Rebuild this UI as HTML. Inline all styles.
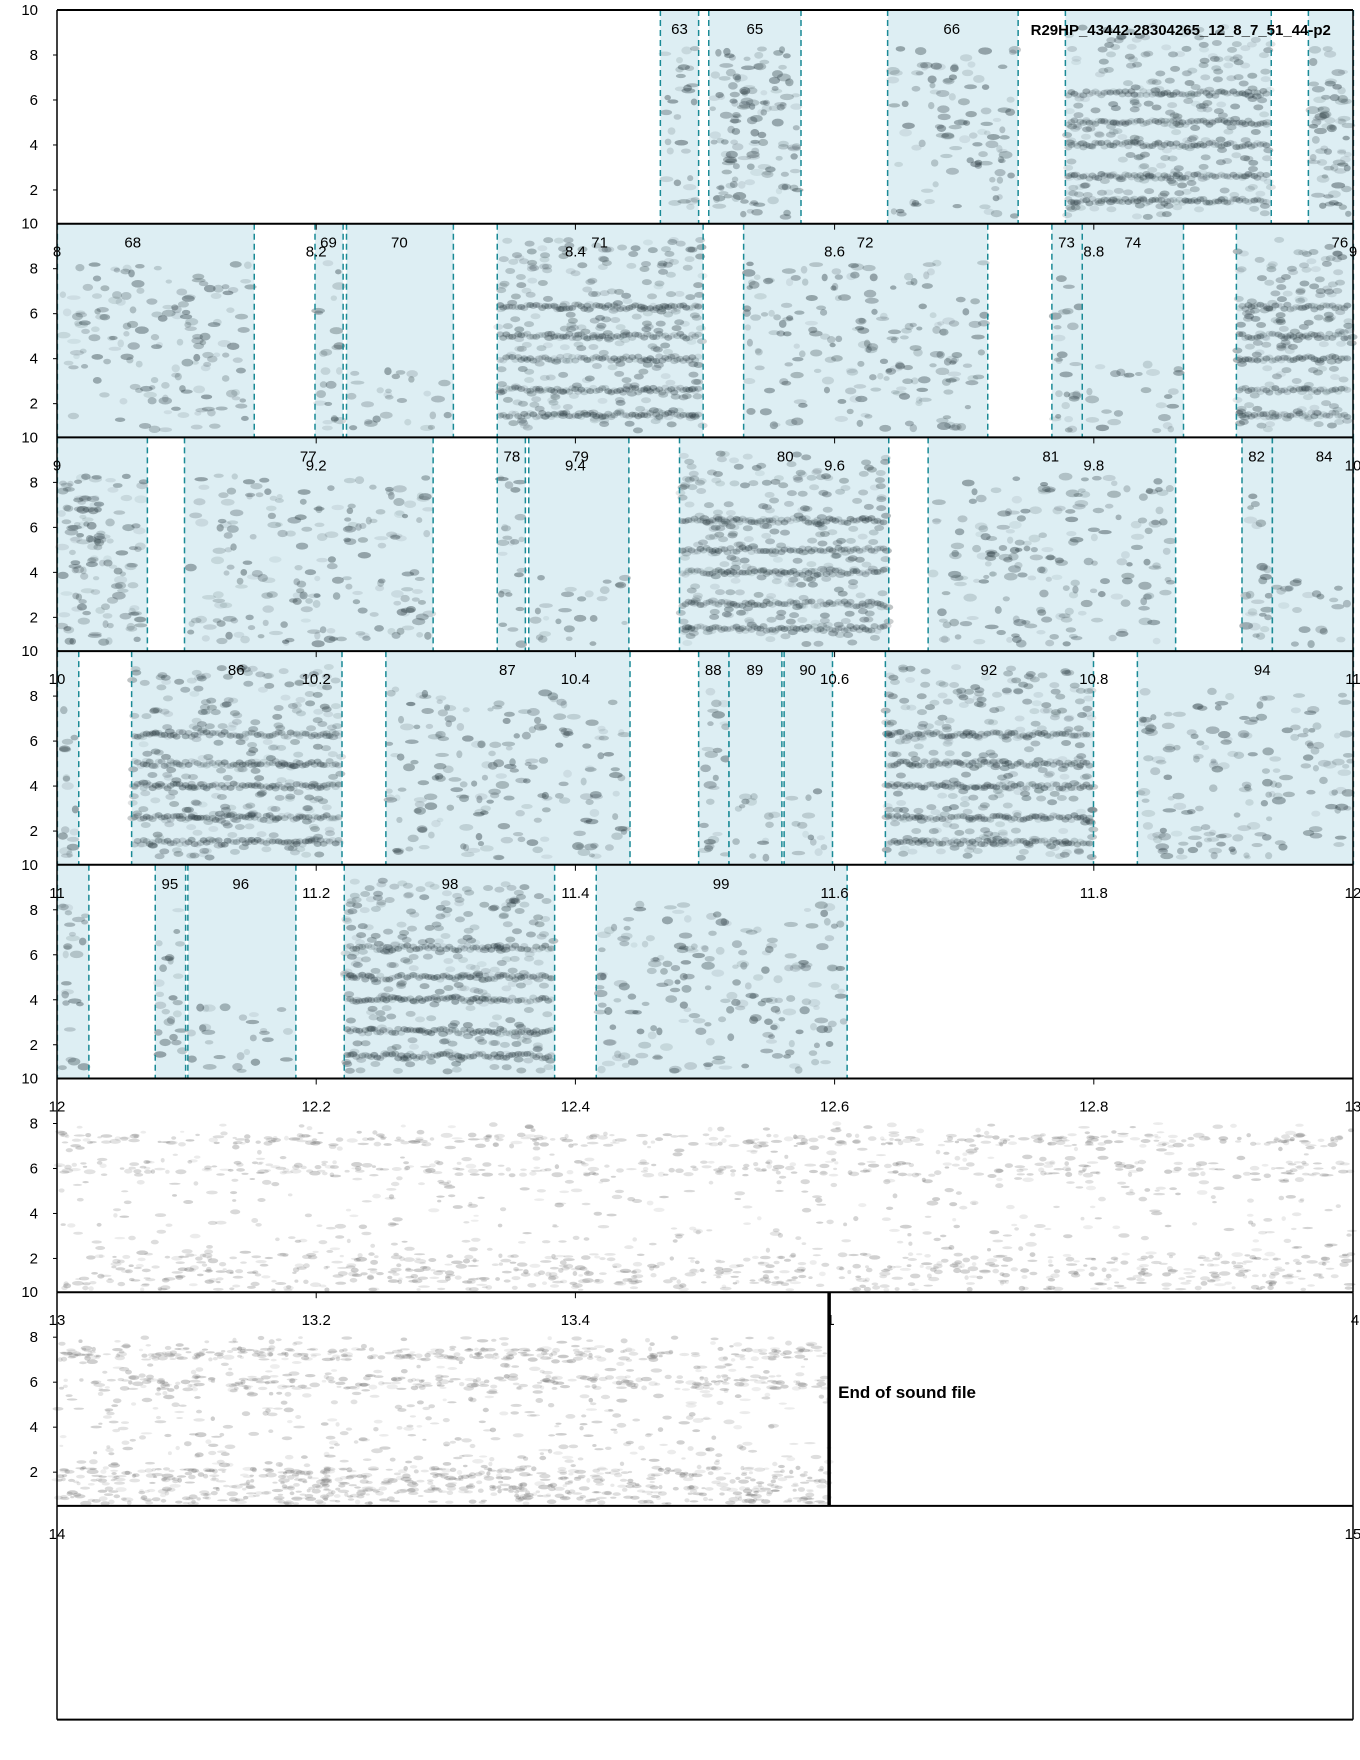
<!DOCTYPE html>
<html><head><meta charset="utf-8"><style>
html,body{margin:0;padding:0;background:#fff;}
svg{display:block;font-family:"Liberation Sans",sans-serif;}
</style></head><body>
<svg id="s" width="1360" height="1760" xmlns="http://www.w3.org/2000/svg"></svg>
<script>
const S=document.getElementById('s');
let out='';
const L=57,R=1353,W=R-L,RH=213.7,T0=10;
const k=1.125;
let seed=12345;function rnd(){seed=(seed*16807)%2147483647;return seed/2147483647;}
function rowTop(i){return T0+i*RH;}
function fy(i,khz){return rowTop(i)+(10-khz)*RH/9.5;}
const rows=[
 [[587,621,'63',604,'s'],[630,712,'65',671,'d'],[789,905,'66',846,'s'],[947,1130,'',0,'h'],[1163,1203,'',0,'d']],
 [[51,226,'68',118,'s'],[280,305,'69',292,'s'],[308,403,'70',355,'l'],[442,625,'71',533,'h'],[661,878,'72',769,'s'],[935,962,'73',948,'s'],[962,1052,'74',1007,'l'],[1099,1203,'76',1191,'h']],
 [[51,131,'',0,'d'],[164,385,'77',274,'s'],[442,467,'78',455,'s'],[470,559,'79',516,'l'],[604,790,'80',698,'h'],[825,1045,'81',934,'s'],[1104,1131,'82',1117,'s'],[1131,1203,'84',1177,'l']],
 [[51,70,'',0,'s'],[117,304,'86',210,'h'],[343,560,'87',451,'s'],[621,648,'88',634,'s'],[648,695,'89',671,'l'],[697,740,'90',718,'l'],[787,972,'92',879,'h'],[1011,1203,'94',1122,'s']],
 [[51,79,'',0,'s'],[138,165,'95',151,'s'],[167,263,'96',214,'l'],[306,493,'98',400,'h'],[530,753,'99',641,'s']]
];
function noise(i,x1,x2){
 for(let n=0;n<1600;n++){
  let x=x1+rnd()*(x2-x1);
  let r=rnd();let kh;
  if(r<0.35)kh=0.6+rnd()*1.6;else if(r<0.5)kh=7.0+rnd()*0.5;else if(r<0.65)kh=5.7+rnd()*0.6;else kh=1+rnd()*7;
  const y=fy(i,kh);
  out+=`<ellipse cx="${x.toFixed(1)}" cy="${y.toFixed(1)}" rx="${(2+rnd()*4).toFixed(1)}" ry="${(1+rnd()*1.5).toFixed(1)}" fill="#777" opacity="${(0.12+rnd()*0.25).toFixed(2)}"/>`;
 }
}
noise(5,L,R);
noise(6,L,737*k);
rows.forEach((segs,i)=>{
 const top=rowTop(i),bot=top+RH;
 segs.forEach(s=>{
  const x1=s[0]*k,x2=s[1]*k;
  out+=`<rect x="${x1}" y="${top}" width="${x2-x1}" height="${RH}" fill="#ddeef3"/>`;
  const t=s[4];
  if(t==='h'){
   [1.5,2.6,4,5,6.3].forEach(kh=>{
    for(let x=x1+3;x<x2-3;x+=3){
     const y=fy(i,kh)+(rnd()-0.5)*5;
     out+=`<ellipse cx="${x}" cy="${y}" rx="4" ry="3" fill="#2a3a40" opacity="${(0.1+rnd()*0.3).toFixed(2)}"/>`;
    }
   });
   for(let n=0;n<(x2-x1)*1.4;n++){
    const x=x1+rnd()*(x2-x1),kh=0.8+rnd()*8.5;
    out+=`<ellipse cx="${x}" cy="${fy(i,kh)}" rx="5" ry="3" fill="#2a3a40" opacity="${(0.08+rnd()*0.3).toFixed(2)}"/>`;
   }
  } else {
   const dens=t==='d'?1.5:t==='l'?0.25:0.8;
   for(let n=0;n<(x2-x1)*dens;n++){
    const x=x1+3+rnd()*(x2-x1-6),kh=0.8+rnd()*(t==='l'?3:7.5);
    out+=`<ellipse cx="${x}" cy="${fy(i,kh)}" rx="${3+rnd()*4}" ry="${2+rnd()*2}" fill="#2a3a40" opacity="${(0.08+rnd()*0.35).toFixed(2)}"/>`;
   }
  }
  out+=`<line x1="${x1}" y1="${top}" x2="${x1}" y2="${bot}" stroke="#1a8a96" stroke-width="1.5" stroke-dasharray="6,4"/>`;
  out+=`<line x1="${x2}" y1="${top}" x2="${x2}" y2="${bot}" stroke="#1a8a96" stroke-width="1.5" stroke-dasharray="6,4"/>`;
  if(s[2])out+=`<text x="${s[3]*k}" y="${top+24}" font-size="15" text-anchor="middle">${s[2]}</text>`;
 });
});
for(let i=0;i<8;i++){
 const top=rowTop(i),bot=top+RH;
 out+=`<line x1="${L}" y1="${top}" x2="${R}" y2="${top}" stroke="#000" stroke-width="2"/>`;
 out+=`<line x1="${L}" y1="${top}" x2="${L}" y2="${bot}" stroke="#000" stroke-width="1.5"/>`;
 out+=`<line x1="${R}" y1="${top}" x2="${R}" y2="${bot}" stroke="#000" stroke-width="1.5"/>`;
 if(i<7){
  out+=`<text x="38" y="${top+5}" font-size="15" text-anchor="end">10</text>`;
  [8,6,4,2].forEach(v=>{const y=fy(i,v);out+=`<text x="38" y="${y+5}" font-size="15" text-anchor="end">${v}</text><line x1="${L-4}" y1="${y}" x2="${L}" y2="${y}" stroke="#000"/>`;});
 }
 if(i>=1){
  const st=7+i;
  for(let j=0;j<=5;j++){
   const x=L+j*W/5;
   const lab=(j===0||j===5)?String(st+j/5):(st+j/5).toFixed(1);
   if(i===7){
     if(j===0||j===5)out+=`<text x="${x}" y="${top+33}" font-size="15" text-anchor="middle">${lab}</text>`;
     continue;
   }
   if(i===6&&j>=3){
     if(j===3)out+=`<text x="${x-4}" y="${top+33}" font-size="15" text-anchor="middle">1</text>`;
     if(j===5)out+=`<text x="${x+2}" y="${top+33}" font-size="15" text-anchor="middle">4</text>`;
     continue;
   }
   out+=`<line x1="${x}" y1="${top}" x2="${x}" y2="${top+6}" stroke="#000"/>`;
   out+=`<text x="${x}" y="${top+33}" font-size="15" text-anchor="middle">${lab}</text>`;
  }
 }
}
out+=`<line x1="${L}" y1="${rowTop(8)}" x2="${R}" y2="${rowTop(8)}" stroke="#000" stroke-width="2"/>`;
out+=`<line x1="${737*k}" y1="${rowTop(6)}" x2="${737*k}" y2="${rowTop(7)}" stroke="#000" stroke-width="3.5"/>`;
out+=`<text x="${745*k}" y="${rowTop(6)+106}" font-size="17" font-weight="bold">End of sound file</text>`;
out+=`<text x="${1183*k}" y="35" font-size="15" font-weight="bold" text-anchor="end">R29HP_43442.28304265_12_8_7_51_44-p2</text>`;
S.innerHTML=out;
</script>
</body></html>
